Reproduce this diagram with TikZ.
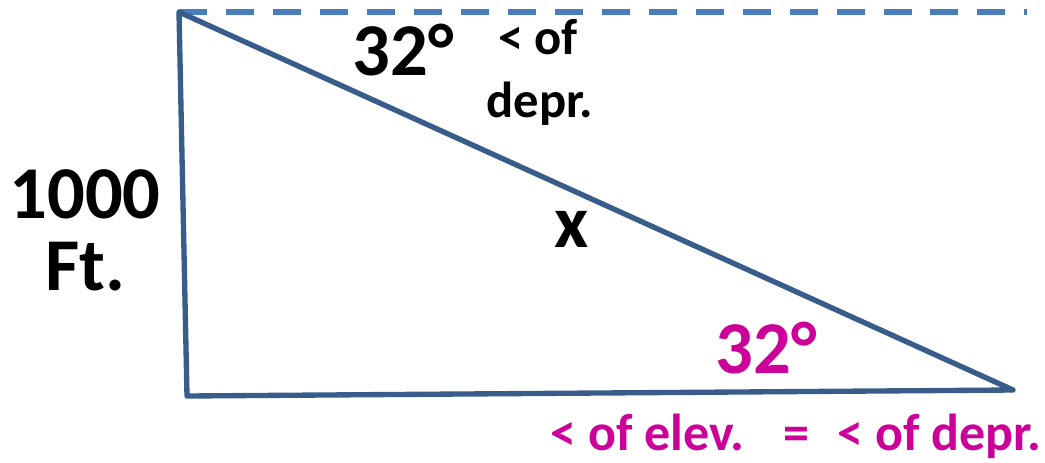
\documentclass[tikz,border=0pt]{standalone}
\usepackage{fontspec}
\setmainfont{Carlito}
\usepackage{tikz}
\usetikzlibrary{positioning}
\definecolor{mSide}{RGB}{56,93,138}
\definecolor{mLevel}{RGB}{74,126,187}
\definecolor{mMag}{RGB}{204,0,153}

\begin{document}
\begin{tikzpicture}[
    x=0.025cm, y=-0.025cm,
    side/.style={mSide, line width=3.8pt, line join=round},
    level/.style={mLevel, line width=4.2pt, dash pattern=on 19.9pt off 13.5pt},
    big/.style={font=\bfseries\fontsize{53}{60}\selectfont, inner sep=0pt, anchor=base},
    small/.style={font=\bfseries\fontsize{36}{42}\selectfont, inner sep=0pt, anchor=base}
]
  \useasboundingbox (0,0) rectangle (1045,462);

  % triangle corners
  \coordinate (top) at (179,12);
  \coordinate (bl) at (187,396);
  \coordinate (br) at (1013,390);
  \coordinate (far) at (1027,12);

  \draw[level] (top) -- (far);
  \draw[side] (top) -- (bl) -- (br) -- cycle;

  \node[big] (angtop) at (403,75) {32°};
  \node[small] (oftop) at (538,54) {< of};
  \node[small] (deprtop) at (540,117) {depr.};

  \node[big] (height) at (85,218) {1000};
  \node[big] (unit) at (85,290) {Ft.};
  \node[big] (hyp) at (572,247) {x};

  \node[big, mMag] (angbot) at (766,373) {32°};
  \node[small, mMag, anchor=base east, font=\bfseries\fontsize{37}{42}\selectfont] (rule) at (1042,450)
    {< of elev.\hspace*{0.75em}=\hspace*{0.55em}< of depr.};
\end{tikzpicture}
\end{document}
